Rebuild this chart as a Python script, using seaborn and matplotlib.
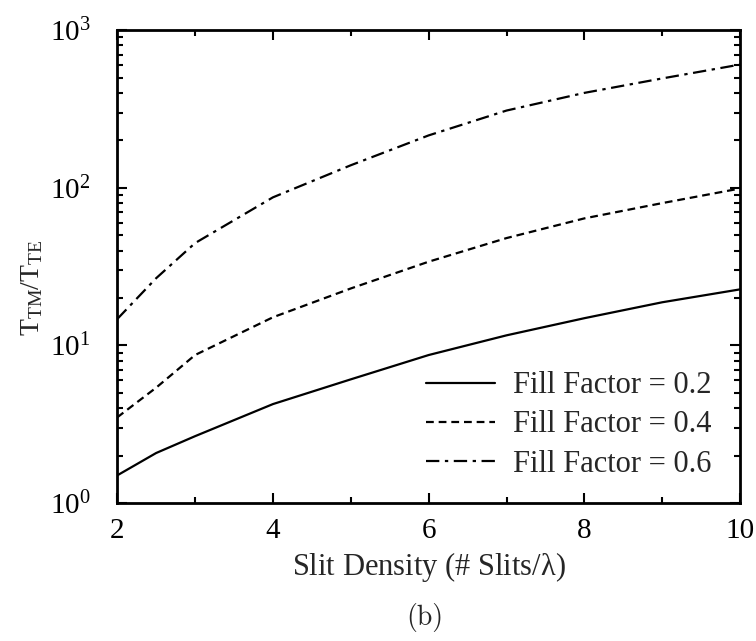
import matplotlib
matplotlib.use("Agg")
import matplotlib.pyplot as plt
import seaborn as sns
import pandas as pd
import numpy as np
from matplotlib.ticker import LogLocator, MultipleLocator, NullFormatter

slit_density = [2, 2.5, 3, 4, 5, 6, 7, 8, 9, 10]
ff_02 = [1.5, 2.08, 2.66, 4.25, 6.1, 8.7, 11.6, 14.9, 18.8, 22.7]
ff_04 = [3.5, 5.4, 8.7, 15.1, 23, 34, 48, 64, 80, 99]
ff_06 = [14.7, 26.7, 44.6, 87, 139, 215, 309, 400, 494, 605]
labels = ["Fill Factor = 0.2", "Fill Factor = 0.4", "Fill Factor = 0.6"]

rows = []
for lab, vals in zip(labels, [ff_02, ff_04, ff_06]):
    for x, y in zip(slit_density, vals):
        rows.append({"x": x, "y": y, "series": lab})
df = pd.DataFrame(rows)

sns.set_theme(style="ticks")
plt.rcParams["font.family"] = ["Liberation Serif", "DejaVu Serif"]
plt.rcParams["mathtext.fontset"] = "custom"
plt.rcParams["mathtext.rm"] = "Liberation Serif"
plt.rcParams["mathtext.it"] = "Liberation Serif:italic"

fig = plt.figure(figsize=(7.56, 6.41), dpi=100)
ax = fig.add_axes([0.155, 0.215, 0.824, 0.738])

dashes = {labels[0]: "", labels[1]: (3.5, 2.2), labels[2]: (6, 2.5, 1.5, 2.5)}
sns.lineplot(data=df, x="x", y="y", style="series", dashes=dashes,
             color="black", linewidth=1.6, ax=ax, legend=True, markers=False)

ax.set_yscale("log")
ax.set_xlim(2, 10)
ax.set_ylim(1, 1000)
ax.xaxis.set_major_locator(MultipleLocator(2))
ax.xaxis.set_minor_locator(MultipleLocator(1))
ax.yaxis.set_major_locator(LogLocator(base=10, numticks=10))
ax.yaxis.set_minor_locator(LogLocator(base=10, subs=np.arange(2, 10), numticks=100))
ax.yaxis.set_minor_formatter(NullFormatter())

for s in ax.spines.values():
    s.set_linewidth(2)
    s.set_color("black")
ax.tick_params(which="both", direction="in", top=True, right=True, colors="black",
               labelsize=21, width=1.5)
ax.tick_params(which="major", length=7)
ax.tick_params(axis="x", which="major", pad=11)
ax.tick_params(axis="y", which="major", pad=19)
ax.tick_params(which="minor", length=4)

ax.set_xlabel(r"Slit Density (# Slits/$\mathdefault{\lambda}$)", fontsize=22, labelpad=4)
ax.set_ylabel(r"$\mathdefault{T_{TM}/T_{TE}}$", fontsize=20)
ax.yaxis.set_label_coords(-0.115, 0.455)

leg = ax.legend(loc="lower right", frameon=False, fontsize=22, handlelength=2.25,
                handletextpad=0.59, labelspacing=0.33, bbox_to_anchor=(0.998, -0.006))
for h in leg.legend_handles:
    h.set_color("black")
    h.set_linewidth(1.6)

fig.text(0.562, 0.036, "(b)", family="cmr10", fontsize=20, ha="center", va="center")

fig.savefig("out.png", dpi=100, facecolor="white")
